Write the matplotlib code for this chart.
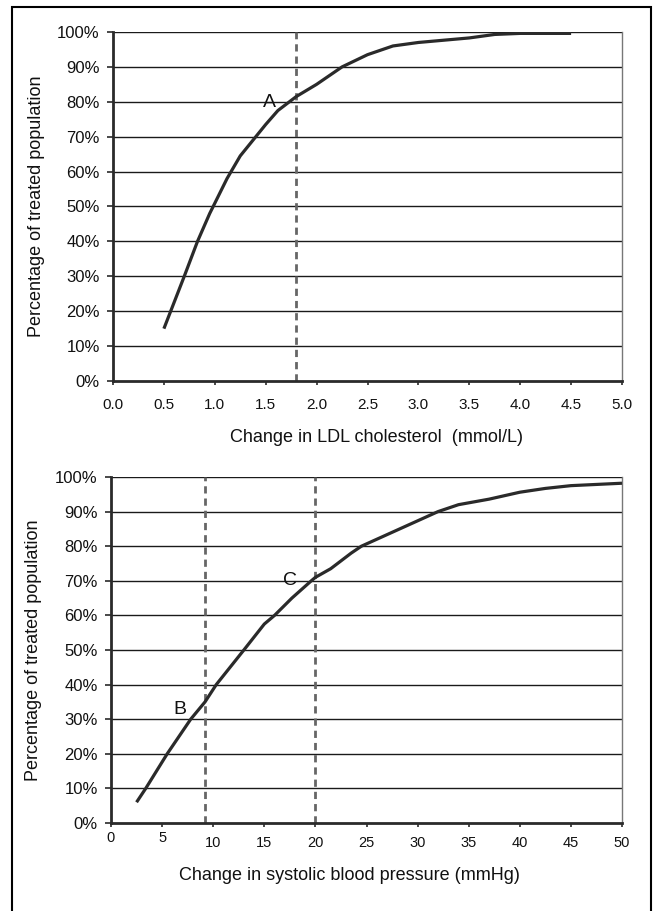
import matplotlib
matplotlib.use("Agg")
import matplotlib.pyplot as plt
from matplotlib.patches import Rectangle
from matplotlib.transforms import ScaledTranslation

plt.rcParams['font.family'] = ['Liberation Sans', 'DejaVu Sans']

# ---- data ----
ldl_x = [0.5, 0.7, 0.83, 0.95, 1.12, 1.25, 1.5, 1.62, 1.8, 2.0, 2.25, 2.5, 2.75, 3.0, 3.5, 3.75, 4.0, 4.5]
ldl_y = [15, 30, 40, 48, 58, 64.5, 73.5, 77.5, 81.5, 85, 90, 93.5, 96, 97, 98.3, 99.3, 99.6, 99.6]
ldl_marks = [1.8]
ldl_xticks = [0.0, 0.5, 1.0, 1.5, 2.0, 2.5, 3.0, 3.5, 4.0, 4.5, 5.0]

bp_x = [2.5, 3.4, 5.5, 7.8, 9.2, 10.3, 13.0, 15.0, 16.0, 17.7, 19.6, 20.0, 21.5, 23.5, 24.5, 32, 34, 37, 40, 42.5, 45, 50]
bp_y = [6, 10, 20, 30, 35, 40, 50, 57.5, 60, 65, 70, 71, 73.5, 78, 80, 90, 92, 93.6, 95.6, 96.7, 97.5, 98.2]
bp_marks = [9.2, 20]
bp_xticks = [0, 5, 10, 15, 20, 25, 30, 35, 40, 45, 50]

y_ticks = [0, 10, 20, 30, 40, 50, 60, 70, 80, 90, 100]
y_ticklabels = [f"{v}%" for v in y_ticks]

annotations_top = [("A", 1.54, 79.8)]
annotations_bottom = [("B", 6.75, 32.7), ("C", 17.5, 70.2)]

W, H = 655, 911
fig = plt.figure(figsize=(W / 100, H / 100), dpi=100)

ax1 = fig.add_axes([113 / W, 1 - 381 / H, (622 - 113) / W, (381 - 32) / H])
ax2 = fig.add_axes([111 / W, 1 - 823 / H, (622 - 111) / W, (823 - 477) / H])

def style(ax, xmax, xticks, xfmt, xfs):
    ax.set_xlim(0, xmax)
    ax.set_ylim(0, 100)
    ax.set_yticks(y_ticks)
    ax.set_yticklabels(y_ticklabels, fontsize=12)
    ax.set_xticks(xticks)
    ax.set_xticklabels([xfmt(v) for v in xticks], fontsize=xfs)
    for y in y_ticks[1:]:
        ax.axhline(y, color='#1a1a1a', lw=1.0, zorder=1)
    ax.spines['top'].set_visible(False)
    ax.spines['right'].set_color('#777777')
    ax.spines['right'].set_linewidth(1.0)
    ax.spines['left'].set_color('#2a2a2a')
    ax.spines['left'].set_linewidth(2.0)
    ax.spines['bottom'].set_color('#2a2a2a')
    ax.spines['bottom'].set_linewidth(2.0)
    ax.tick_params(axis='y', direction='out', length=4.5, width=1.2, color='#2a2a2a', pad=5, labelcolor='#111111')
    ax.tick_params(axis='x', direction='out', length=3, width=1.2, color='#2a2a2a', labelcolor='#111111')

style(ax1, 5.0, ldl_xticks, lambda v: f"{v:.1f}", 11)
style(ax2, 50, bp_xticks, lambda v: f"{v:d}", 10.5)
ax1.tick_params(axis='x', pad=9.5)
ax2.tick_params(axis='x', pad=6.5)

for m in ldl_marks:
    ax1.axvline(m, color='#666666', lw=2.0, dashes=(2.6, 1.8), zorder=2)
for m in bp_marks:
    ax2.axvline(m, color='#666666', lw=2.0, dashes=(2.6, 1.8), zorder=2)

ax1.plot(ldl_x, ldl_y, color='#2a2a2a', lw=2.3, zorder=3, solid_capstyle='butt')
ax2.plot(bp_x, bp_y, color='#2a2a2a', lw=2.3, zorder=3, solid_capstyle='butt')

for t, x, y in annotations_top:
    ax1.text(x, y, t, fontsize=14, ha='center', va='center', color='#111111', zorder=4)
for t, x, y in annotations_bottom:
    ax2.text(x, y, t, fontsize=14, ha='center', va='center', color='#111111', zorder=4)

# raise the first two tick labels of the bottom panel slightly (as in reference)
for lab in ax2.get_xticklabels()[:2]:
    lab.set_transform(lab.get_transform() + ScaledTranslation(0, 5 / 100, fig.dpi_scale_trans))

ax1.set_ylabel("Percentage of treated population", fontsize=13, color='#111111')
ax2.set_ylabel("Percentage of treated population", fontsize=13, color='#111111')
ax1.yaxis.set_label_coords(-0.134, 0.5)
ax2.yaxis.set_label_coords(-0.135, 0.5)

ax1.set_xlabel("Change in LDL cholesterol  (mmol/L)", fontsize=13, color='#111111')
ax2.set_xlabel("Change in systolic blood pressure (mmHg)", fontsize=13, color='#111111')
ax1.xaxis.label.set_va('center')
ax2.xaxis.label.set_va('center')
ax1.xaxis.set_label_coords((377 - 113) / 509, (381 - 437) / 349)
ax2.xaxis.set_label_coords((349 - 111) / 511, (823 - 875) / 346)

# outer frame (bottom edge lies beyond the image)
fig.patches.append(Rectangle((12 / W, -0.02), (651 - 12) / W, 1 - 7 / H + 0.02,
                             transform=fig.transFigure, fill=False, lw=1.5,
                             edgecolor='black', clip_on=False))

fig.savefig("out.png", dpi=100, facecolor='white')
